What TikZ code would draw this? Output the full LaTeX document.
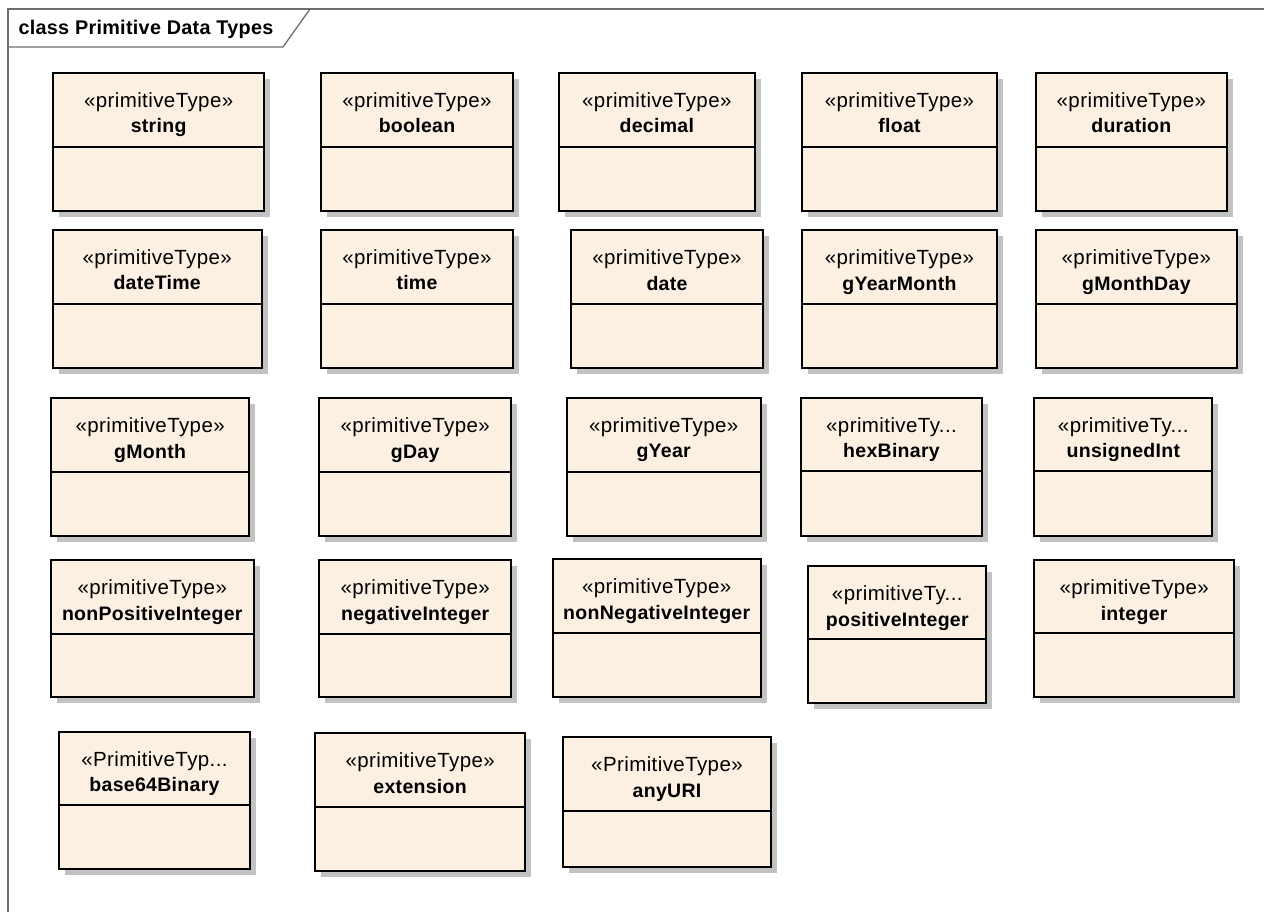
\documentclass[tikz,border=0pt]{standalone}
\usepackage{fontspec}
\setmainfont{Liberation Sans}
\newfontfamily\stfont[LetterSpace=2]{Liberation Sans}
\newfontfamily\nmfont[LetterSpace=1.5]{Liberation Sans}
\definecolor{boxfill}{HTML}{FBF0E2}
\definecolor{shadowc}{HTML}{C2C2C2}
\definecolor{framec}{HTML}{6E6E6E}
\tikzset{
  umlbox/.style={rectangle, draw=black, line width=2pt, fill=boxfill, inner sep=0pt, outer sep=0pt},
  sepline/.style={draw=black, line width=1.8pt},
  shadowbox/.style={fill=shadowc},
  stereotxt/.style={inner sep=0pt, anchor=base, font=\stfont\fontsize{20.5}{22}\selectfont},
  nametxt/.style={inner sep=0pt, anchor=base, font=\nmfont\bfseries\fontsize{19.5}{22}\selectfont},
  frameline/.style={draw=framec, line width=1.3pt},
  titletxt/.style={inner sep=0pt, anchor=base west, font=\nmfont\bfseries\fontsize{19.8}{22}\selectfont}
}
\newcommand{\ptbox}[8]{%
  \fill[shadowbox] ({#2+6},{#3+6}) rectangle ({#4+6},{#5+6});
  \node[umlbox, anchor=north west, minimum width={(#4-#2)*1pt}, minimum height={(#5-#3)*1pt}] (#1) at (#2,#3) {};
  \draw[sepline] (#2,#6) -- (#4,#6);
  \node[stereotxt] (#1-st) at ({(#2+#4)/2},{#3+34.5}) {#7};
  \node[nametxt] (#1-nm) at ({(#2+#4)/2},{#3+60}) {#8};
}
\begin{document}
\begin{tikzpicture}[x=1pt, y=-1pt]
\useasboundingbox (0,0) rectangle (1264,912);
% frame
\draw[frameline] (8,930) -- (8,9) -- (1280,9);
\draw[frameline] (8,47) -- (283,47) -- (310,9);
\node[titletxt] (title) at (18.3,35) {class Primitive Data Types};
% row 1
\ptbox{string}{53.3}{72.7}{264}{210.7}{146.7}{«primitiveType»}{string}
\ptbox{boolean}{320.7}{72.7}{513.3}{210.7}{146.7}{«primitiveType»}{boolean}
\ptbox{decimal}{558.7}{72.7}{755}{210.7}{146.7}{«primitiveType»}{decimal}
\ptbox{float}{802.3}{72.7}{996.7}{210.7}{146.7}{«primitiveType»}{float}
\ptbox{duration}{1036}{72.7}{1226.7}{210.7}{146.7}{«primitiveType»}{duration}
% row 2
\ptbox{dateTime}{52.7}{230}{261.7}{368.3}{304.3}{«primitiveType»}{dateTime}
\ptbox{time}{320.7}{230}{513.3}{368.3}{304.3}{«primitiveType»}{time}
\ptbox{date}{570.7}{230.3}{763.3}{368.3}{304.3}{«primitiveType»}{date}
\ptbox{gYearMonth}{802.3}{230.3}{996.7}{368.3}{304.3}{«primitiveType»}{gYearMonth}
\ptbox{gMonthDay}{1036}{230.3}{1236.7}{368.3}{304.3}{«primitiveType»}{gMonthDay}
% row 3
\ptbox{gMonth}{51}{398}{249.3}{535.7}{471.7}{«primitiveType»}{gMonth}
\ptbox{gDay}{319}{398}{511.4}{535.7}{471.7}{«primitiveType»}{gDay}
\ptbox{gYear}{566.7}{397.7}{760.7}{535.7}{471.7}{«primitiveType»}{gYear}
\ptbox{hexBinary}{800.7}{397.7}{982.3}{535.7}{471.3}{«primitiveTy...}{hexBinary}
\ptbox{unsignedInt}{1034.3}{397.7}{1212.3}{535.7}{471.3}{«primitiveTy...}{unsignedInt}
% row 4
\ptbox{nonPositiveInteger}{51}{560}{253.6}{697.3}{634}{«primitiveType»}{nonPositiveInteger}
\ptbox{negativeInteger}{319}{560}{511.4}{697.3}{634}{«primitiveType»}{negativeInteger}
\ptbox{nonNegativeInteger}{552.7}{559.3}{760.7}{697.3}{633.3}{«primitiveType»}{nonNegativeInteger}
\ptbox{positiveInteger}{808.3}{566}{986.3}{703.3}{639.3}{«primitiveTy...}{positiveInteger}
\ptbox{integer}{1034.3}{560}{1234}{697.3}{633.3}{«primitiveType»}{integer}
% row 5
\ptbox{base64Binary}{59}{731.7}{250}{869}{805.3}{«PrimitiveTyp...}{base64Binary}
\ptbox{extension}{315}{733.3}{525.3}{871.3}{807.3}{«primitiveType»}{extension}
\ptbox{anyURI}{563}{737.3}{771}{866.7}{811.3}{«PrimitiveType»}{anyURI}
\end{tikzpicture}
\end{document}
